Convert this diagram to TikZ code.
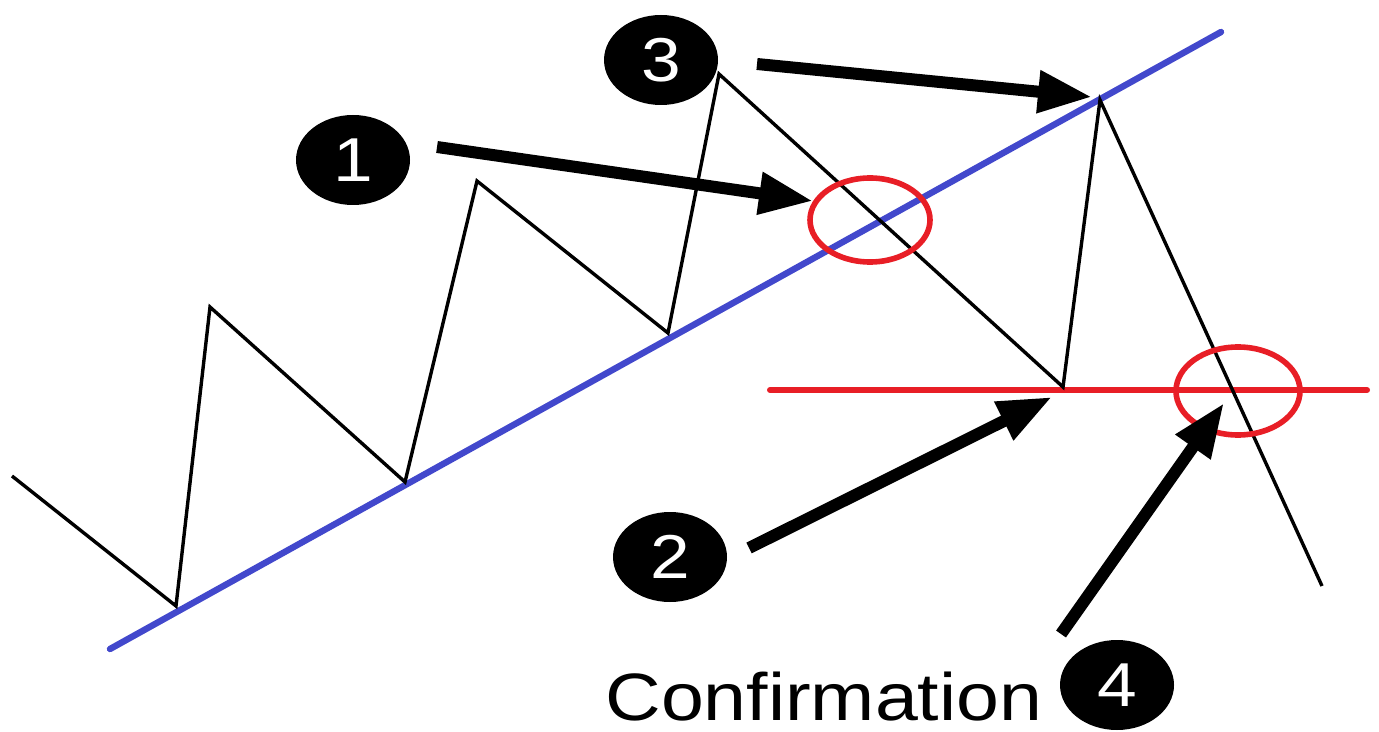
\documentclass[tikz,border=0pt]{standalone}
\usepackage{fontspec}
\setmainfont{Liberation Sans}
\usetikzlibrary{arrows.meta,shapes.geometric}
\definecolor{trendblue}{RGB}{66,72,204}
\definecolor{sigred}{RGB}{232,30,38}
\begin{document}
\begin{tikzpicture}[x=0.5pt,y=-0.5pt,
  numball/.style={ellipse, fill=black, minimum width=57pt, minimum height=45pt, inner sep=0pt,
    text=white, font=\fontsize{31}{31}\selectfont},
  bigarrow/.style={line width=6pt, -{Triangle[length=27pt,width=20pt]}},
  price/.style={line width=1.7pt, line join=miter},
  trend/.style={trendblue, line width=3.2pt, line cap=round},
  neck/.style={sigred, line width=3pt, line cap=round},
  ring/.style={ellipse, draw=sigred, line width=2.8pt, inner sep=0pt}]
\useasboundingbox (0,0) rectangle (1379,732);
% price path
\coordinate (p0) at (12,476);
\coordinate (p1) at (176,606);
\coordinate (p2) at (210,307);
\coordinate (p3) at (405,482);
\coordinate (p4) at (477,181);
\coordinate (p5) at (668,333);
\coordinate (p6) at (719,74);
\coordinate (p7) at (1063,387);
\coordinate (p8) at (1100,100);
\coordinate (p9) at (1322,586);
% trend line
\coordinate (t0) at (110,649);
\coordinate (t1) at (1221,32);
\draw[trend] (t0) -- (t1);
% neckline
\coordinate (r0) at (770,390);
\coordinate (r1) at (1367,390);
\draw[neck] (r0) -- (r1);
\draw[price] (p0) -- (p1) -- (p2) -- (p3) -- (p4) -- (p5) -- (p6) -- (p7) -- (p8) -- (p9);
% rings
\node[ring, minimum width=60pt, minimum height=42pt] (ringA) at (870,220) {};
\node[ring, minimum width=62pt, minimum height=44pt] (ringB) at (1238,391) {};
% numbered balls
\node[numball] (n1) at (353,160) {\scalebox{1.15}[1]{1}};
\node[numball] (n3) at (661,60) {\scalebox{1.15}[1]{3}};
\node[numball] (n2) at (670,557) {\scalebox{1.15}[1]{2}};
\node[numball] (n4) at (1117,685) {\scalebox{1.15}[1]{4}};
% arrow ends
\coordinate (a1s) at (437,147);
\coordinate (a1e) at (813,201);
\coordinate (a3s) at (757,64);
\coordinate (a3e) at (1092,97);
\coordinate (a2s) at (749,548);
\coordinate (a2e) at (1052,397);
\coordinate (a4s) at (1061,634);
\coordinate (a4e) at (1224,403);
\draw[bigarrow] (a1s) -- (a1e);
\draw[bigarrow] (a3s) -- (a3e);
\draw[bigarrow] (a2s) -- (a2e);
\draw[bigarrow] (a4s) -- (a4e);
% label
\node[anchor=base west, inner sep=0pt, font=\fontsize{33.5}{33.5}\selectfont, xscale=1.15] (conf) at (605,720) {Confirmation};
\end{tikzpicture}
\end{document}
